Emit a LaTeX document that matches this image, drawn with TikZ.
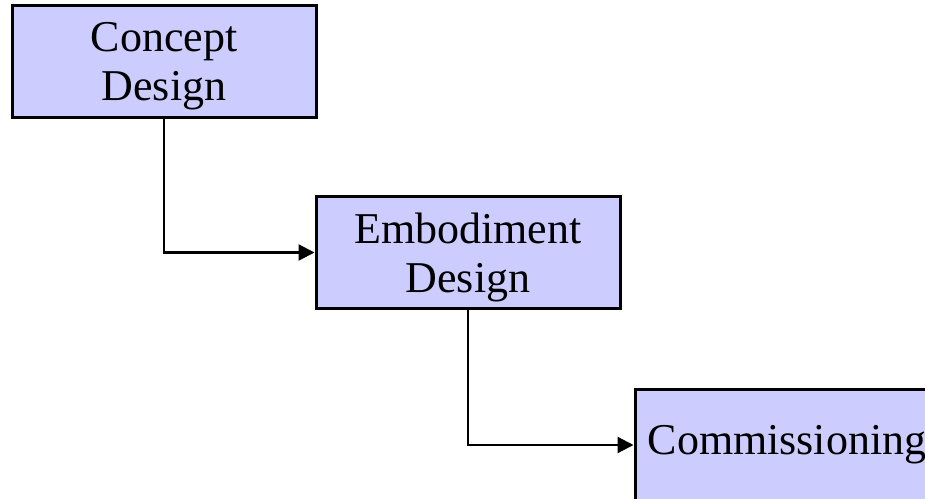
\documentclass[tikz,border=0pt]{standalone}
\usepackage{fontspec}
\setmainfont{Liberation Serif}
\usepackage{xcolor}
\definecolor{boxfill}{RGB}{204,204,255}
\usetikzlibrary{arrows.meta}

\tikzset{
  stagebox/.style={draw=black,fill=boxfill,line width=3pt,line join=miter,
    minimum width=304pt,minimum height=112pt,inner sep=0pt,align=center,
    font=\fontsize{44}{49}\selectfont},
  twoline/.style={text height=89pt},
  flowline/.style={line width=2.2pt,-{Triangle[length=16pt,width=16pt]}}
}

\begin{document}
\begin{tikzpicture}[line cap=butt,line join=miter,x=1pt,y=1pt]
                \useasboundingbox (0,0) rectangle (925,-498);
                \clip (0,0) rectangle (925,-498);
                \node[stagebox,twoline] (concept) at (164,-61) {Concept\\Design};
                \node[stagebox,twoline] (embodiment) at (468,-252.5) {Embodiment\\Design};
                \node[stagebox] (commission) at (787,-445) {Commissioning};
                \draw [flowline] (concept.south) |- (embodiment.west);
                \draw [flowline] (embodiment.south) |- (commission.west);
\end{tikzpicture}
\end{document}
